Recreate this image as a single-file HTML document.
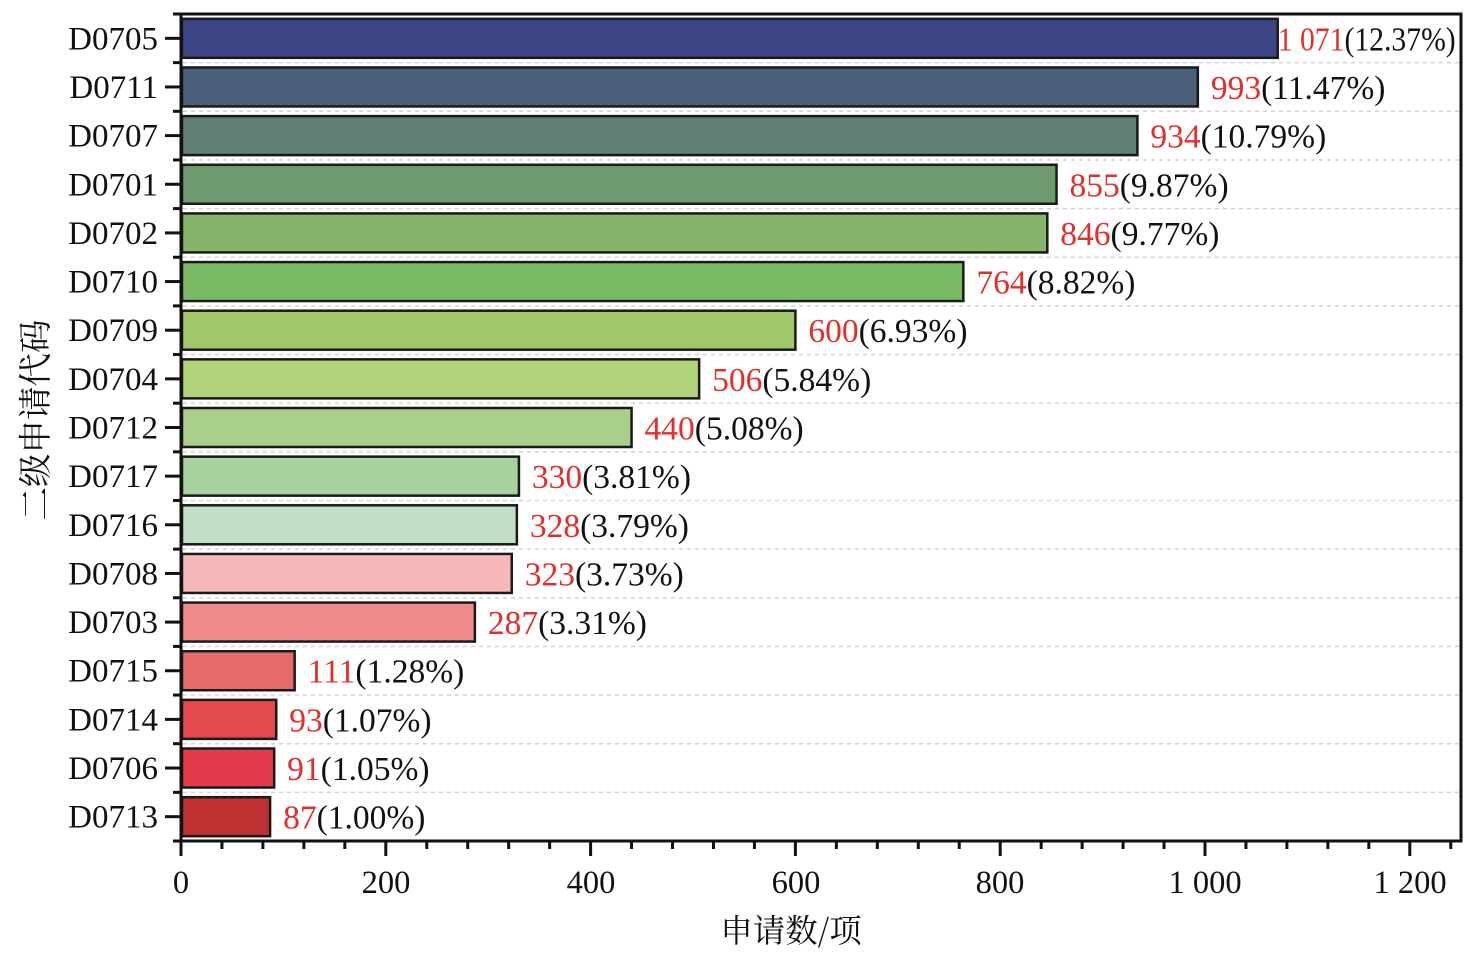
<!DOCTYPE html>
<html><head><meta charset="utf-8"><style>
html,body{margin:0;padding:0;background:#fff;}
svg{display:block;}
text{font-family:"Liberation Serif","Noto Serif CJK SC",serif;}
</style></head><body>
<svg width="1473" height="953" viewBox="0 0 1473 953" xmlns="http://www.w3.org/2000/svg">
<g id="grid" stroke="#d8d0d0" stroke-width="1.5" stroke-dasharray="4,4"></g>
<g id="bars"></g>
<g id="labels" font-size="33.5"></g>
<g id="ylab" font-size="33" text-anchor="end" fill="#111"></g>
<g id="ticks" stroke="#111" stroke-width="3"></g>
<rect x="181" y="14" width="1280" height="827" fill="none" stroke="#111" stroke-width="3"/>
<g font-size="32.5" text-anchor="middle" fill="#111">
<text x="181" y="893">0</text><text x="386" y="893">200</text><text x="591" y="893">400</text>
<text x="796" y="893">600</text><text x="1000" y="893">800</text><text x="1205" y="893">1 000</text><text x="1410" y="893">1 200</text>
</g>
<text x="791" y="942" font-size="32.5" text-anchor="middle" fill="#111" style='font-family:"Noto Serif CJK SC","Noto Sans CJK SC",serif'>申请数/项</text>
<text transform="translate(47,420) rotate(-90)" font-size="33.5" text-anchor="middle" fill="#111" style='font-family:"Noto Serif CJK SC","Noto Sans CJK SC",serif'>二级申请代码</text>
<script>
var d=[["D0705",1071,"1 071","12.37","#3c4585"],["D0711",993,"993","11.47","#4a6078"],["D0707",934,"934","10.79","#607f73"],["D0701",855,"855","9.87","#6f9a6f"],["D0702",846,"846","9.77","#85b46a"],["D0710",764,"764","8.82","#7bba65"],["D0709",600,"600","6.93","#a0c86a"],["D0704",506,"506","5.84","#b0d279"],["D0712",440,"440","5.08","#a9d08a"],["D0717",330,"330","3.81","#a8d1a0"],["D0716",328,"328","3.79","#c2dfc8"],["D0708",323,"323","3.73","#f6b8b8"],["D0703",287,"287","3.31","#ee8a8a"],["D0715",111,"111","1.28","#e66a6a"],["D0714",93,"93","1.07","#e44a4e"],["D0706",91,"91","1.05","#e33b4c"],["D0713",87,"87","1.00","#bf3030"]];
var NS="http://www.w3.org/2000/svg",pitch=827/17,s=1.024;
function el(g,t,a,txt){var e=document.createElementNS(NS,t);for(var k in a)e.setAttribute(k,a[k]);if(txt!=null)e.textContent=txt;document.getElementById(g).appendChild(e);return e;}
d.forEach(function(r,i){var c=14+pitch*(i+0.5),w=r[1]*s;
if(i<16)el("grid","line",{x1:183,x2:1459,y1:14+pitch*(i+1),y2:14+pitch*(i+1)});
el("bars","rect",{x:182,y:c-19.5,width:w-1,height:39,fill:r[4],stroke:"#1a1a1a","stroke-width":2.5});
var attrs={x:181+w+(i==0?0:13),y:c+12};
if(i==0){attrs.textLength=178;attrs.lengthAdjust="spacingAndGlyphs";}
var t=el("labels","text",attrs);
var a=document.createElementNS(NS,"tspan");a.setAttribute("fill","#e0302c");a.textContent=r[2];t.appendChild(a);
var b=document.createElementNS(NS,"tspan");b.setAttribute("fill","#111");b.textContent="("+r[3]+"%)";t.appendChild(b);
el("ylab","text",{x:158,y:c+11},r[0]);
el("ticks","line",{x1:165,x2:181,y1:c,y2:c});
el("ticks","line",{x1:173,x2:181,y1:14+pitch*i,y2:14+pitch*i});
});
el("ticks","line",{x1:173,x2:181,y1:841,y2:841});
for(var v=0;v<=1240;v+=40){var x=181+v*s,maj=v%200==0;el("ticks","line",{x1:x,x2:x,y1:841,y2:maj?856:849});}
</script>
</svg>
</body></html>
